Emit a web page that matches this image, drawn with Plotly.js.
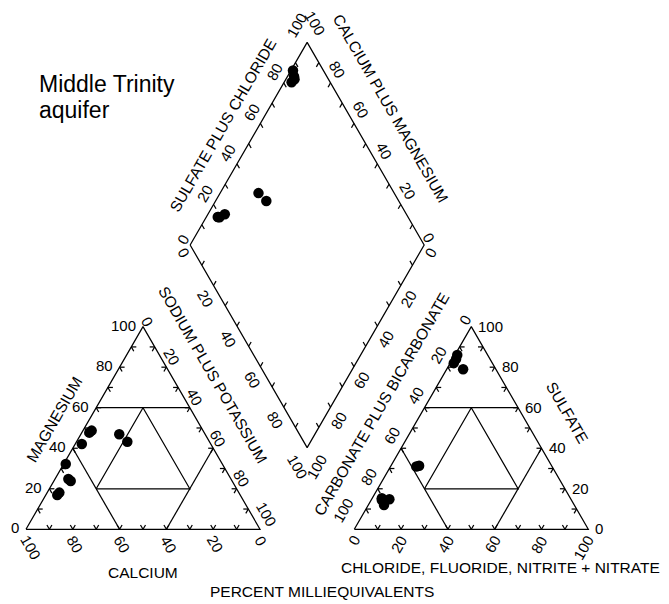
<!DOCTYPE html>
<html><head><meta charset="utf-8">
<script src="https://cdn.plot.ly/plotly-3.0.1.min.js"></script>
<style>html,body{margin:0;padding:0;background:#fff}#chart{width:669px;height:604px}</style>
</head><body><div id="chart"></div>
<script>
// ---------- data: percent milliequivalents per sample ----------
const sampleIds       = ['1','2','3','4','5','6','7','8','9','10'];
const calcium         = [47.6, 49.1, 55.1, 66.9, 36.7, 35.1, 69.5, 69.0, 78.2, 76.7];
const magnesium       = [48.7, 47.7, 42.1, 32.2, 46.9, 43.2, 24.8, 23.8, 16.9, 18.1];
const sodiumPotassium = [ 3.7,  3.2,  2.8,  0.9, 16.4, 21.7,  5.7,  7.2,  4.9,  5.2];
const bicarbonate     = [14.5, 16.5, 14.0, 13.0, 58.0, 56.6, 80.6, 77.6, 81.3, 81.0];
const sulfate         = [84.0, 82.0, 79.0, 86.0, 31.0, 31.4, 15.3, 14.8, 12.0, 14.5];
const chloride        = [ 1.5,  1.5,  7.0,  1.0, 11.0, 12.0,  4.1,  7.6,  6.7,  4.5];
const tickValues      = [0, 20, 40, 60, 80, 100];

// ---------- geometry ----------
const S = 234, OX = 26, OY = 529.3;       // px per unit, origin px
const G = 0.403, H = Math.sqrt(3) / 2;    // gap between triangles, triangle height
const FONT = 'Liberation Sans, Arial, sans-serif';
const INK = '#000';

function cat(mg, na) { return [na + mg / 2, mg * H]; }
function an(so4, cl) { return [1 + G + cl + so4 / 2, so4 * H]; }
const DL = [0.5 + G / 2, H * (1 + G)];
function dia(n, s) { return [DL[0] + 0.5 * (s + n), DL[1] + H * (s - n)]; }
function scr(p) { return [OX + p[0] * S, OY - p[1] * S]; }
function dat(sx, sy) { return [(sx - OX) / S, (OY - sy) / S]; }

// ---------- frame lines ----------
const lx = [], ly = [];
function poly(pts) { pts.forEach(p => { lx.push(p[0]); ly.push(p[1]); }); lx.push(null); ly.push(null); }
function seg(a, b) { poly([a, b]); }
function add(p, d, t) { return [p[0] + d[0] * t, p[1] + d[1] * t]; }

// left (cation) triangle
poly([cat(0, 0), cat(0, 1), cat(1, 0), cat(0, 0)]);
seg(cat(0.6, 0), cat(0.6, 0.4));
seg(cat(0, 0.4), cat(0.4, 0));
seg(cat(0, 0.6), cat(0.4, 0.6));
poly([cat(0.2, 0.2), cat(0.2, 0.6), cat(0.6, 0.2), cat(0.2, 0.2)]);
// right (anion) triangle
poly([an(0, 0), an(0, 1), an(1, 0), an(0, 0)]);
seg(an(0.6, 0), an(0.6, 0.4));
seg(an(0, 0.4), an(0.4, 0));
seg(an(0, 0.6), an(0.4, 0.6));
poly([an(0.2, 0.2), an(0.2, 0.6), an(0.6, 0.2), an(0.2, 0.2)]);
// diamond
poly([dia(0, 0), dia(0, 1), dia(1, 1), dia(1, 0), dia(0, 0)]);

// ticks
const tl = 5 / S;
const UL = [-0.5, H], UR = [0.5, H], DLd = [-0.5, -H], DR = [0.5, -H], RI = [1, 0], LE = [-1, 0];
for (let k = 1; k <= 9; k++) {
  const f = k / 10;
  let p = cat(0, f); seg(add(p, UL, tl), p); seg(p, add(p, UR, tl));
  p = cat(f, 0); seg(add(p, RI, tl), p); seg(p, add(p, DR, tl));
  p = cat(1 - f, f); seg(add(p, LE, tl), p); seg(p, add(p, DLd, tl));
  p = an(0, f); seg(add(p, UL, tl), p); seg(p, add(p, UR, tl));
  p = an(1 - f, 0); seg(add(p, RI, tl), p); seg(p, add(p, DR, tl));
  p = an(f, 1 - f); seg(add(p, LE, tl), p); seg(p, add(p, DLd, tl));
  p = dia(0, f); seg(p, add(p, DR, tl));
  p = dia(f, 0); seg(p, add(p, UR, tl));
  p = dia(f, 1); seg(p, add(p, DLd, tl));
  p = dia(1, f); seg(p, add(p, UL, tl));
}

// ---------- sample points ----------
const px = [], py = [];
for (let i = 0; i < sampleIds.length; i++) {
  const ct = calcium[i] + magnesium[i] + sodiumPotassium[i];
  const at = bicarbonate[i] + sulfate[i] + chloride[i];
  const mg = magnesium[i] / ct, na = sodiumPotassium[i] / ct;
  const so4 = sulfate[i] / at, cl = chloride[i] / at;
  const a = cat(mg, na), b = an(so4, cl), c = dia(na, so4 + cl);
  px.push(a[0], b[0], c[0]); py.push(a[1], b[1], c[1]);
}

// ---------- annotations ----------
const anns = [];
function txt(text, sx, sy, angle, size, xa) {
  const d = dat(sx, sy);
  anns.push({x: d[0], y: d[1], xref: 'x', yref: 'y', text: String(text), showarrow: false,
    textangle: angle || 0, xanchor: xa || 'center', yanchor: 'middle',
    font: {family: FONT, size: size || 15, color: INK}});
}
function wid(t) { return String(t).length * 0.556 * 15; }
function lab(t, P, a, b, ca, cb, angle) {
  txt(t, P[0] + ca[0] * a + cb[0] * b, P[1] + ca[1] * a + cb[1] * b, angle);
}
const dDown = [0.5, 0.866], dDownL = [-0.5, 0.866], dUp = [0.5, -0.866];
tickValues.forEach(v => {
  const f = v / 100, w = wid(v), ex = String(v).length - 2;
  // cation triangle
  let P = scr(cat(f, 0)); txt(v, P[0] - 5, P[1] - 1.5, 0, 15, 'right');
  P = scr(cat(0, 1 - f)); lab(v, [P[0] - 1.5, P[1] + 7.5], w / 2, 0, dDown, [0, 0], 60);
  P = scr(cat(1 - f, f)); lab(v, P, 9.5 + 3.5 * ex, 2 - w / 2, [0.866, -0.5], dDown, 60);
  // anion triangle
  P = scr(an(f, 1 - f)); txt(v, P[0] + 5, P[1] - 0.5, 0, 15, 'left');
  P = scr(an(0, f)); lab(v, [P[0] + 1.5, P[1] + 7.5], w / 2, 0, dDownL, [0, 0], -60);
  P = scr(an(1 - f, 0)); lab(v, P, 14 + 5 * ex, 2 - w / 2, [-0.866, -0.5], dDownL, -60);
  // diamond
  const dp = 13.5 + 4.5 * ex;
  P = scr(dia(0, f)); lab(v, P, w / 2 - 3, dp, dUp, [-0.866, -0.5], -60);
  P = scr(dia(1 - f, 1)); lab(v, P, -w / 2, dp - 1, dDown, [0.866, -0.5], 60);
  P = scr(dia(f, 0)); lab(v, P, w / 2 - 1, dp, dDown, [-0.866, 0.5], 60);
  P = scr(dia(1, 1 - f)); lab(v, P, w / 2 - 1, dp, dDownL, [0.866, 0.5], -60);
});

// axis titles
const TS = 15.5;
txt('MAGNESIUM', 54, 419, -60, TS);
txt('CALCIUM', 142.5, 572.5, 0, TS);
txt('SODIUM PLUS POTASSIUM', 213, 374, 60, TS);
txt('SULFATE PLUS CHLORIDE', 222.5, 125, -60, TS);
txt('CALCIUM PLUS MAGNESIUM', 391, 108, 60, TS);
txt('CARBONATE PLUS BICARBONATE', 381, 404, -60, TS);
txt('SULFATE', 567.5, 412, 60, TS);
txt('CHLORIDE, FLUORIDE, NITRITE + NITRATE', 500.8, 567.5, 0, TS);
txt('PERCENT MILLIEQUIVALENTS', 321.7, 591.7, 0, TS);
txt('Middle Trinity', 36.7, 83.5, 0, 23, 'left');
txt('aquifer', 36.7, 109.5, 0, 23, 'left');

const traces = [
  {x: lx, y: ly, mode: 'lines', line: {color: INK, width: 1.25}, hoverinfo: 'skip', type: 'scatter'},
  {x: px, y: py, mode: 'markers', marker: {color: '#000', size: 10.5}, hoverinfo: 'skip', type: 'scatter'}
];
const layout = {
  width: 669, height: 604, margin: {l: 0, r: 0, t: 0, b: 0},
  paper_bgcolor: '#fff', plot_bgcolor: '#fff', showlegend: false,
  xaxis: {range: [-OX / S, (669 - OX) / S], visible: false, fixedrange: true},
  yaxis: {range: [-(604 - OY) / S, OY / S], visible: false, fixedrange: true},
  annotations: anns
};
Plotly.newPlot('chart', traces, layout, {displayModeBar: false, staticPlot: true});
</script></body></html>
